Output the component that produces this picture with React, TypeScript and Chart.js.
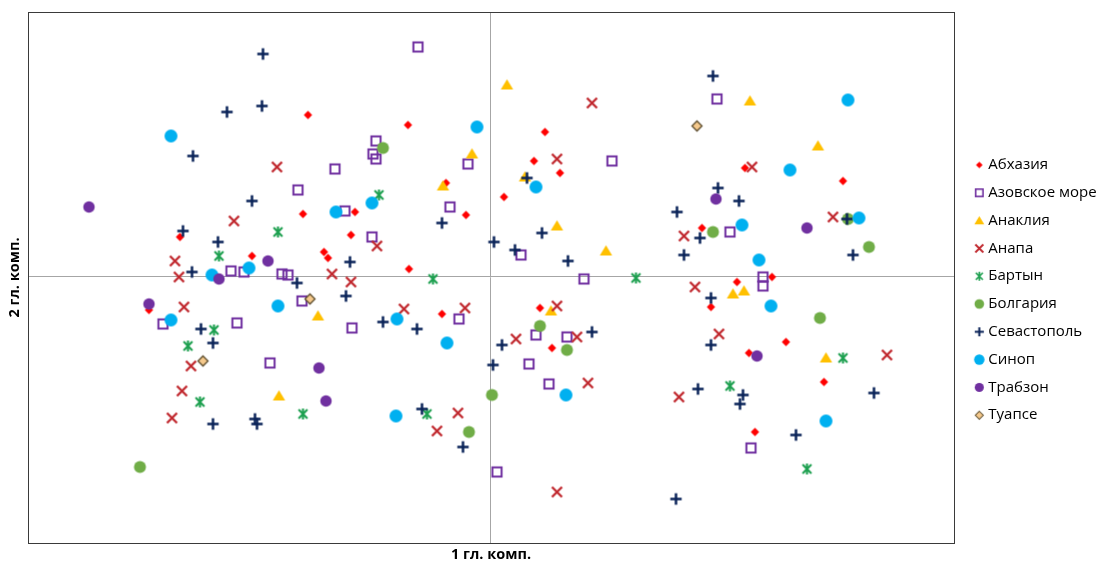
import { useEffect, useRef } from 'react';
import { Chart, registerables } from 'chart.js';

Chart.register(...registerables);

// ---------- data ----------
const seriesNames = ['Абхазия', 'Азовское море', 'Анаклия', 'Анапа', 'Бартын', 'Болгария', 'Севастополь', 'Синоп', 'Трабзон', 'Туапсе'];

const abkhazia = [
  { x: -3.65, y: 3.23 }, { x: -1.65, y: 3.03 }, { x: 1.09, y: 2.89 }, { x: 0.87, y: 2.31 }, { x: 1.39, y: 2.07 },
  { x: -0.89, y: 1.87 }, { x: 0.27, y: 1.59 }, { x: -0.49, y: 1.23 }, { x: -3.75, y: 1.25 }, { x: -2.71, y: 1.29 },
  { x: -2.79, y: 0.83 }, { x: -6.21, y: 0.79 }, { x: -4.77, y: 0.41 }, { x: -3.33, y: 0.49 }, { x: -3.25, y: 0.37 },
  { x: -1.63, y: 0.15 }, { x: -6.83, y: -0.67 }, { x: 0.99, y: -0.63 }, { x: 1.23, y: -1.43 }, { x: -0.97, y: -0.75 },
  { x: 4.41, y: -0.61 }, { x: 4.93, y: -0.11 }, { x: 5.63, y: -0.01 }, { x: 5.17, y: -1.53 }, { x: 5.91, y: -1.31 },
  { x: 6.67, y: -2.11 }, { x: 5.29, y: -3.11 }, { x: 7.05, y: 1.91 }, { x: 5.09, y: 2.17 }, { x: 4.23, y: 0.97 },
];

const azovSea = [
  { x: -1.45, y: 4.59 }, { x: 4.53, y: 3.55 }, { x: 2.43, y: 2.31 }, { x: -3.11, y: 2.15 }, { x: -2.29, y: 2.71 },
  { x: -2.35, y: 2.45 }, { x: -2.29, y: 2.35 }, { x: -0.45, y: 2.25 }, { x: -3.85, y: 1.73 }, { x: -0.81, y: 1.39 },
  { x: -2.91, y: 1.31 }, { x: -2.37, y: 0.79 }, { x: -4.17, y: 0.05 }, { x: -4.05, y: 0.03 }, { x: -5.19, y: 0.11 },
  { x: -4.93, y: 0.09 }, { x: 0.61, y: 0.43 }, { x: 1.87, y: -0.05 }, { x: 4.79, y: 0.89 }, { x: 5.45, y: -0.01 },
  { x: 5.45, y: -0.19 }, { x: -6.55, y: -0.95 }, { x: -5.07, y: -0.93 }, { x: -3.77, y: -0.49 }, { x: -2.77, y: -1.03 },
  { x: -4.41, y: -1.73 }, { x: -0.63, y: -0.85 }, { x: 0.91, y: -1.17 }, { x: 1.53, y: -1.21 }, { x: 0.77, y: -1.75 },
  { x: 1.17, y: -2.15 }, { x: 0.13, y: -3.91 }, { x: 5.21, y: -3.43 },
];

const anaklia = [
  { x: 0.33, y: 3.83 }, { x: 5.19, y: 3.51 }, { x: 6.55, y: 2.61 }, { x: -0.37, y: 2.45 }, { x: -0.95, y: 1.81 },
  { x: 1.33, y: 1.01 }, { x: 2.31, y: 0.51 }, { x: -3.45, y: -0.79 }, { x: 1.21, y: -0.69 }, { x: 4.85, y: -0.35 },
  { x: 5.07, y: -0.29 }, { x: 6.71, y: -1.63 }, { x: -4.23, y: -2.39 }, { x: 0.69, y: 1.99 },
];

const anapa = [
  { x: 2.03, y: 3.47 }, { x: -4.27, y: 2.19 }, { x: 1.33, y: 2.35 }, { x: 5.23, y: 2.19 }, { x: -5.13, y: 1.11 },
  { x: -2.27, y: 0.61 }, { x: -6.31, y: 0.31 }, { x: -6.23, y: -0.01 }, { x: -3.17, y: 0.05 }, { x: -2.79, y: -0.11 },
  { x: 3.87, y: 0.81 }, { x: 6.85, y: 1.19 }, { x: 4.09, y: -0.21 }, { x: -6.13, y: -0.61 }, { x: -1.73, y: -0.65 },
  { x: -0.51, y: -0.63 }, { x: 1.33, y: -0.59 }, { x: -5.99, y: -1.79 }, { x: -6.17, y: -2.29 }, { x: -6.37, y: -2.83 },
  { x: 0.51, y: -1.25 }, { x: 1.73, y: -1.21 }, { x: 1.95, y: -2.13 }, { x: 4.57, y: -1.15 }, { x: 3.77, y: -2.41 },
  { x: 1.33, y: -4.31 }, { x: -0.65, y: -2.73 }, { x: -1.07, y: -3.09 }, { x: 7.93, y: -1.57 },
];

const bartin = [
  { x: -2.23, y: 1.63 }, { x: -4.25, y: 0.89 }, { x: -5.43, y: 0.41 }, { x: -1.15, y: -0.05 }, { x: 2.91, y: -0.03 },
  { x: -6.05, y: -1.39 }, { x: -5.53, y: -1.07 }, { x: -5.81, y: -2.51 }, { x: -3.75, y: -2.75 }, { x: -1.27, y: -2.75 },
  { x: 4.79, y: -2.19 }, { x: 7.05, y: -1.63 }, { x: 6.33, y: -3.85 },
];

const bulgaria = [
  { x: -2.15, y: 2.57 }, { x: 4.45, y: 0.89 }, { x: 7.57, y: 0.59 }, { x: 7.15, y: 1.15 }, { x: 0.99, y: -0.99 },
  { x: 1.53, y: -1.47 }, { x: 0.03, y: -2.37 }, { x: -0.43, y: -3.11 }, { x: -7.01, y: -3.81 }, { x: 6.59, y: -0.83 },
];

const sevastopol = [
  { x: -4.55, y: 4.45 }, { x: -5.27, y: 3.29 }, { x: -4.57, y: 3.41 }, { x: -5.95, y: 2.41 }, { x: -4.77, y: 1.51 },
  { x: -6.15, y: 0.91 }, { x: -5.45, y: 0.69 }, { x: -5.97, y: 0.09 }, { x: -0.97, y: 1.07 }, { x: 0.07, y: 0.69 },
  { x: -2.81, y: 0.29 }, { x: -3.87, y: -0.13 }, { x: -2.89, y: -0.39 }, { x: 4.45, y: 4.01 }, { x: 0.73, y: 1.97 },
  { x: 0.49, y: 0.53 }, { x: 1.03, y: 0.87 }, { x: 1.55, y: 0.31 }, { x: 3.73, y: 1.29 }, { x: 4.55, y: 1.77 },
  { x: 3.87, y: 0.43 }, { x: 4.19, y: 0.77 }, { x: 4.97, y: 1.51 }, { x: 7.13, y: 1.15 }, { x: 7.25, y: 0.43 },
  { x: 4.41, y: -0.43 }, { x: 4.41, y: -1.37 }, { x: 5.05, y: -2.37 }, { x: 4.99, y: -2.55 }, { x: 4.15, y: -2.25 },
  { x: 6.11, y: -3.17 }, { x: 7.67, y: -2.33 }, { x: 3.71, y: -4.45 }, { x: 0.23, y: -1.37 }, { x: 0.05, y: -1.77 },
  { x: 2.03, y: -1.11 }, { x: -2.15, y: -0.91 }, { x: -1.47, y: -1.05 }, { x: -5.79, y: -1.05 }, { x: -5.55, y: -1.33 },
  { x: -5.55, y: -2.95 }, { x: -4.71, y: -2.85 }, { x: -4.67, y: -2.95 }, { x: -1.37, y: -2.65 }, { x: -0.55, y: -3.41 },
];

const sinop = [
  { x: -6.39, y: 2.81 }, { x: -0.27, y: 2.99 }, { x: 7.15, y: 3.53 }, { x: 5.99, y: 2.13 }, { x: 0.91, y: 1.79 },
  { x: -2.37, y: 1.47 }, { x: -3.09, y: 1.29 }, { x: 5.03, y: 1.03 }, { x: 7.37, y: 1.17 }, { x: 5.37, y: 0.33 },
  { x: -4.83, y: 0.17 }, { x: -5.57, y: 0.03 }, { x: 5.61, y: -0.59 }, { x: -6.39, y: -0.87 }, { x: -4.25, y: -0.59 },
  { x: -1.87, y: -0.85 }, { x: -0.87, y: -1.33 }, { x: -1.89, y: -2.79 }, { x: 1.51, y: -2.37 }, { x: 6.71, y: -2.89 },
];

const trabzon = [
  { x: -8.03, y: 1.39 }, { x: -4.45, y: 0.31 }, { x: -5.43, y: -0.05 }, { x: -6.83, y: -0.55 }, { x: 4.51, y: 1.55 },
  { x: 6.33, y: 0.97 }, { x: 5.33, y: -1.59 }, { x: -3.43, y: -1.83 }, { x: -3.29, y: -2.49 },
];

const tuapse = [
  { x: 4.13, y: 3.01 }, { x: -3.61, y: -0.45 }, { x: -5.75, y: -1.69 },
];

const seriesData = [abkhazia, azovSea, anaklia, anapa, bartin, bulgaria, sevastopol, sinop, trabzon, tuapse];

const xTitle = '1 гл. комп.';
const yTitle = '2 гл. комп.';
const xRange = [-9.25, 9.27];
const yRange = [-5.33, 5.29];

// ---------- styles ----------
type Kind = 'diamond' | 'square' | 'triangle' | 'cross' | 'star' | 'circle' | 'plus' | 'tdiamond';
const styles: { kind: Kind; color: string; r?: number }[] = [
  { kind: 'diamond', color: '#FF0000' },
  { kind: 'square', color: '#7030A0' },
  { kind: 'triangle', color: '#FFC000' },
  { kind: 'cross', color: '#C0272D' },
  { kind: 'star', color: '#1EA050' },
  { kind: 'circle', color: '#70AD47', r: 6 },
  { kind: 'plus', color: '#0A2358' },
  { kind: 'circle', color: '#00B0F0', r: 6.5 },
  { kind: 'circle', color: '#7030A0', r: 5.7 },
  { kind: 'tdiamond', color: '#F5C98C' },
];

function makeMarker(kind: Kind, color: string, r: number | undefined, k: number): HTMLCanvasElement {
  const s = 15;
  const cv = document.createElement('canvas');
  cv.width = s;
  cv.height = s;
  const c = cv.getContext('2d')!;
  const m = s / 2;
  c.translate(m, m);
  c.scale(k, k);
  switch (kind) {
    case 'diamond':
      c.fillStyle = color;
      c.beginPath();
      c.moveTo(0, -4.2); c.lineTo(4.2, 0); c.lineTo(0, 4.2); c.lineTo(-4.2, 0);
      c.closePath();
      c.fill();
      break;
    case 'square':
      c.strokeStyle = color;
      c.lineWidth = 2;
      c.strokeRect(-4.6, -4.6, 9.2, 9.2);
      break;
    case 'triangle':
      c.fillStyle = color;
      c.beginPath();
      c.moveTo(0, -5.7); c.lineTo(6.2, 4.6); c.lineTo(-6.2, 4.6);
      c.closePath();
      c.fill();
      break;
    case 'cross':
      c.strokeStyle = color;
      c.lineWidth = 2.3;
      c.beginPath();
      c.moveTo(-5, -5); c.lineTo(5, 5);
      c.moveTo(5, -5); c.lineTo(-5, 5);
      c.stroke();
      break;
    case 'star':
      c.strokeStyle = color;
      c.lineWidth = 2.1;
      c.beginPath();
      c.moveTo(-4.4, -4.4); c.lineTo(4.4, 4.4);
      c.moveTo(4.4, -4.4); c.lineTo(-4.4, 4.4);
      c.moveTo(0, -5.6); c.lineTo(0, 5.6);
      c.stroke();
      break;
    case 'plus':
      c.strokeStyle = color;
      c.lineWidth = 2.5;
      c.beginPath();
      c.moveTo(-5.7, 0); c.lineTo(5.7, 0);
      c.moveTo(0, -5.7); c.lineTo(0, 5.7);
      c.stroke();
      break;
    case 'circle':
      c.fillStyle = color;
      c.beginPath();
      c.arc(0, 0, r || 6, 0, Math.PI * 2);
      c.fill();
      break;
    case 'tdiamond':
      c.fillStyle = color;
      c.strokeStyle = '#5A4A2A';
      c.lineWidth = 1.3;
      c.beginPath();
      c.moveTo(0, -5); c.lineTo(5, 0); c.lineTo(0, 5); c.lineTo(-5, 0);
      c.closePath();
      c.fill();
      c.stroke();
      break;
  }
  return cv;
}

const FONT = '"Open Sans", "Liberation Sans", sans-serif';
const LEG_FS = 15;
const LEG_PAD = 27.8 - LEG_FS;
const LEG_BOX = 3;
const GAP_AXIS = 11;
const CHART_RIGHT = 954;
const TITLE_FS = 14.5;
const W = 1101;
const H = 563;

export default function App() {
  const ref = useRef<HTMLCanvasElement | null>(null);

  useEffect(() => {
    const canvas = ref.current;
    if (!canvas) return;

    const pointImgs = styles.map((s) => makeMarker(s.kind, s.color, s.r, 1));
    const legendImgs = styles.map((s) => makeMarker(s.kind, s.color, s.r, 0.8));

    const mctx = document.createElement('canvas').getContext('2d')!;
    mctx.font = `${LEG_FS}px ${FONT}`;
    const tw = Math.max(...seriesNames.map((n) => mctx.measureText(n).width));
    const legendW = LEG_PAD + LEG_BOX + LEG_FS / 2 + tw + 10;
    const padRight = W - CHART_RIGHT - GAP_AXIS - legendW;

    const borderPlugin = {
      id: 'plotBorder',
      afterDatasetsDraw(chart: any) {
        const { ctx, chartArea } = chart;
        ctx.save();
        ctx.strokeStyle = '#3A3A3A';
        ctx.lineWidth = 1;
        ctx.strokeRect(
          Math.round(chartArea.left) + 0.5,
          Math.round(chartArea.top) + 0.5,
          Math.round(chartArea.right - chartArea.left),
          Math.round(chartArea.bottom - chartArea.top)
        );
        ctx.restore();
      },
    };

    const n = seriesNames.length;
    const chart = new Chart(canvas, {
      type: 'scatter',
      data: {
        datasets: seriesNames.map((name, i) => ({
          label: name,
          data: seriesData[i],
          pointStyle: pointImgs[i] as any,
          pointRadius: 6,
          pointHoverRadius: 6,
          backgroundColor: styles[i].color,
          borderColor: styles[i].color,
          order: n - i,
        })),
      },
      options: {
        animation: false,
        responsive: false,
        events: [],
        layout: { autoPadding: false, padding: { top: 12, left: 0, bottom: 0, right: padRight } },
        plugins: {
          tooltip: { enabled: false },
          legend: {
            display: true,
            position: 'right',
            align: 'start',
            title: { display: true, text: '', font: { size: 1 }, padding: { top: 165 - 12 - LEG_PAD - LEG_FS / 2 - 1.2, bottom: 0 } },
            labels: {
              usePointStyle: true,
              boxWidth: LEG_BOX,
              padding: LEG_PAD,
              color: '#000000',
              font: { family: FONT, size: LEG_FS },
              sort: (a: any, b: any) => a.datasetIndex - b.datasetIndex,
              generateLabels: (ch: any) =>
                seriesNames.map((name, i) => ({
                  text: name,
                  datasetIndex: i,
                  pointStyle: legendImgs[i],
                  fillStyle: styles[i].color,
                  strokeStyle: styles[i].color,
                  lineWidth: 0,
                  hidden: !ch.isDatasetVisible(i),
                  fontColor: '#000000',
                })),
            },
          },
        },
        scales: {
          x: {
            type: 'linear',
            position: 'bottom',
            min: xRange[0],
            max: xRange[1],
            afterBuildTicks: (axis: any) => { axis.ticks = [{ value: 0 }]; },
            afterFit: (axis: any) => { axis.height = 20; },
            ticks: { display: false },
            grid: { display: true, drawTicks: false, color: '#A6A6A6', lineWidth: 1 },
            border: { display: false },
            title: { display: true, text: xTitle, color: '#000000', font: { family: FONT, size: TITLE_FS, weight: 'bold' }, padding: { top: 0, bottom: -0.5 } },
          },
          y: {
            type: 'linear',
            position: 'left',
            min: yRange[0],
            max: yRange[1],
            afterBuildTicks: (axis: any) => { axis.ticks = [{ value: 0 }]; },
            afterFit: (axis: any) => { axis.width = 28; },
            ticks: { display: false },
            grid: { display: true, drawTicks: false, color: '#A6A6A6', lineWidth: 1 },
            border: { display: false },
            title: { display: true, text: yTitle, color: '#000000', font: { family: FONT, size: TITLE_FS, weight: 'bold' }, padding: { top: 6, bottom: 0 } },
          },
          gap: {
            type: 'linear',
            position: 'right',
            display: true,
            afterFit: (axis: any) => { axis.width = GAP_AXIS; },
            ticks: { display: false },
            grid: { display: false, drawTicks: false },
            border: { display: false },
            title: { display: false },
          },
        },
      },
      plugins: [borderPlugin],
    } as any);

    return () => chart.destroy();
  }, []);

  return (
    <div style={{ position: 'absolute', left: 0, top: 0, width: W, height: H, background: '#ffffff' }}>
      <canvas ref={ref} width={W} height={H} style={{ display: 'block', width: W, height: H }} />
    </div>
  );
}
